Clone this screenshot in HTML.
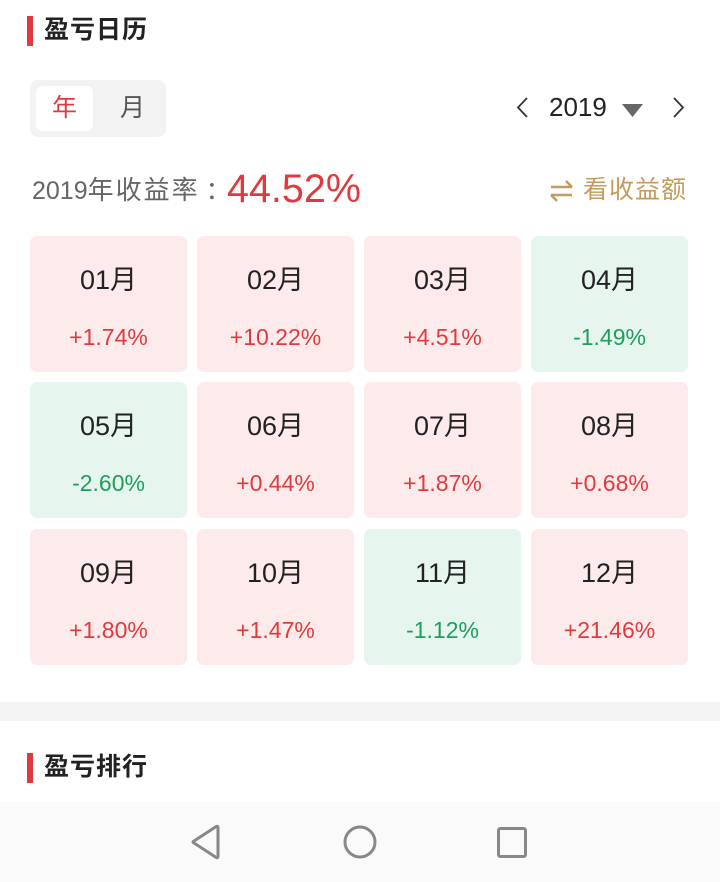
<!DOCTYPE html>
<html>
<head>
<meta charset="utf-8">
<style>
  html,body{margin:0;padding:0;}
  body{width:720px;height:882px;position:relative;background:#fff;overflow:hidden;
       font-family:"Liberation Sans","Noto Sans CJK SC",sans-serif;}
  .abs{position:absolute;}
  .bar{position:absolute;width:6px;background:#e03a3e;}
  .title{position:absolute;font-size:25px;font-weight:bold;color:#222;line-height:30px;letter-spacing:1px;}
  .card{position:absolute;width:157px;height:136px;border-radius:7px;}
  .card.r{background:#fdebeb;}
  .card.g{background:#e6f6ef;}
  .card .m{position:absolute;left:0;right:0;top:29px;height:30px;line-height:30px;text-align:center;font-size:27px;color:#222;}
  .card .p{position:absolute;left:0;right:0;top:88px;height:26px;line-height:26px;text-align:center;font-size:23px;}
  .card.r .p{color:#e03a3e;}
  .card.g .p{color:#1f9e5b;}
</style>
</head>
<body>
  <!-- Title 1 -->
  <div class="bar" style="left:27px;top:16px;height:30px;"></div>
  <div class="title" style="left:44px;top:15px;">盈亏日历</div>

  <!-- segmented control -->
  <div class="abs" style="left:30px;top:80px;width:136px;height:57px;background:#f3f3f3;border-radius:8px;"></div>
  <div class="abs" style="left:36px;top:86px;width:57px;height:45px;background:#fff;border-radius:6px;"></div>
  <div class="abs" style="left:36px;top:93px;width:57px;height:30px;line-height:30px;text-align:center;font-size:25px;color:#e03a3e;">年</div>
  <div class="abs" style="left:104px;top:93px;width:57px;height:30px;line-height:30px;text-align:center;font-size:25px;color:#555;">月</div>

  <!-- year selector -->
  <svg class="abs" style="left:510px;top:94px;" width="190" height="28" viewBox="0 0 190 28">
    <polyline points="17,4 8,13.5 17,23" fill="none" stroke="#333" stroke-width="1.8"/>
    <polygon points="112,10 133,10 122.5,23" fill="#666"/>
    <polyline points="164,4 173,13.5 164,23" fill="none" stroke="#333" stroke-width="1.8"/>
  </svg>
  <div class="abs" style="left:549px;top:92px;height:30px;line-height:30px;font-size:26px;color:#222;">2019</div>

  <!-- yearly return -->
  <div class="abs" style="left:32px;top:175px;height:30px;line-height:30px;font-size:25px;color:#666;white-space:nowrap;">2019<span style="font-size:26px;letter-spacing:2px;">年收益率</span><span style="display:inline-block;margin-left:6px;">：</span></div>
  <div class="abs" style="left:227px;top:166px;height:46px;line-height:46px;font-size:39.5px;color:#e03a3e;">44.52%</div>

  <!-- view amount -->
  <svg class="abs" style="left:548px;top:178px;" width="28" height="26" viewBox="0 0 28 26">
    <line x1="3" y1="9" x2="24" y2="9" stroke="#c39b5a" stroke-width="2.4"/>
    <line x1="24" y1="9" x2="18" y2="3" stroke="#c39b5a" stroke-width="2.4"/>
    <line x1="3" y1="17" x2="24" y2="17" stroke="#c39b5a" stroke-width="2.4"/>
    <line x1="3" y1="17" x2="9" y2="23" stroke="#c39b5a" stroke-width="2.4"/>
  </svg>
  <div class="abs" style="left:583px;top:175px;height:30px;line-height:30px;font-size:25px;color:#c39b5a;letter-spacing:1px;">看收益额</div>

  <!-- cards row 1 -->
  <div class="card r" style="left:30px;top:236px;"><div class="m">01月</div><div class="p">+1.74%</div></div>
  <div class="card r" style="left:197px;top:236px;"><div class="m">02月</div><div class="p">+10.22%</div></div>
  <div class="card r" style="left:364px;top:236px;"><div class="m">03月</div><div class="p">+4.51%</div></div>
  <div class="card g" style="left:531px;top:236px;"><div class="m">04月</div><div class="p">-1.49%</div></div>
  <!-- row 2 -->
  <div class="card g" style="left:30px;top:382px;"><div class="m">05月</div><div class="p">-2.60%</div></div>
  <div class="card r" style="left:197px;top:382px;"><div class="m">06月</div><div class="p">+0.44%</div></div>
  <div class="card r" style="left:364px;top:382px;"><div class="m">07月</div><div class="p">+1.87%</div></div>
  <div class="card r" style="left:531px;top:382px;"><div class="m">08月</div><div class="p">+0.68%</div></div>
  <!-- row 3 -->
  <div class="card r" style="left:30px;top:529px;"><div class="m">09月</div><div class="p">+1.80%</div></div>
  <div class="card r" style="left:197px;top:529px;"><div class="m">10月</div><div class="p">+1.47%</div></div>
  <div class="card g" style="left:364px;top:529px;"><div class="m">11月</div><div class="p">-1.12%</div></div>
  <div class="card r" style="left:531px;top:529px;"><div class="m">12月</div><div class="p">+21.46%</div></div>

  <!-- separator -->
  <div class="abs" style="left:0;top:702px;width:720px;height:19px;background:#f4f4f4;"></div>

  <!-- Title 2 -->
  <div class="bar" style="left:27px;top:753px;height:30px;"></div>
  <div class="title" style="left:44px;top:752px;">盈亏排行</div>

  <!-- nav bar -->
  <div class="abs" style="left:0;top:802px;width:720px;height:80px;background:#fafafa;"></div>
  <svg class="abs" style="left:0;top:802px;" width="720" height="80" viewBox="0 0 720 80">
    <path d="M218,26 L218,54 Q218,57 215.5,55 L194,41 Q192,40 194,39 L215.5,25 Q218,23 218,26 Z" fill="none" stroke="#888" stroke-width="3" stroke-linejoin="round"/>
    <circle cx="360" cy="40" r="15" fill="none" stroke="#888" stroke-width="3"/>
    <rect x="498.5" y="26.5" width="27" height="28" rx="2" fill="none" stroke="#888" stroke-width="3"/>
  </svg>
</body>
</html>
